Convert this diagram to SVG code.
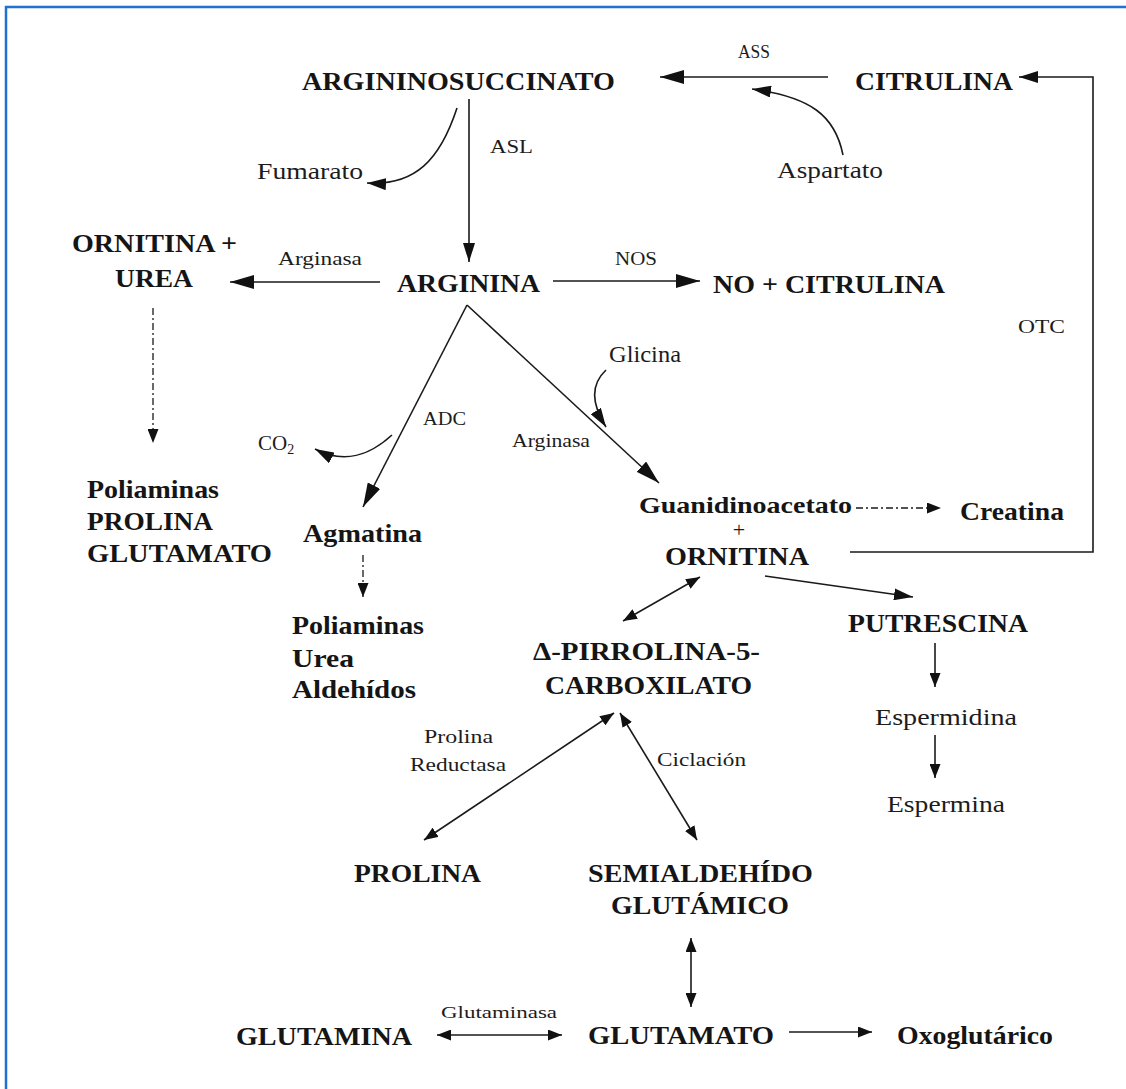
<svg xmlns="http://www.w3.org/2000/svg" width="1126" height="1089" viewBox="0 0 1126 1089">
  <defs>
    <style>
      text{font-family:"Liberation Serif","Times New Roman",serif}
      .b{font-weight:bold;fill:#151515}
      .r{font-weight:normal;fill:#1c1c1c}
      .L{font-size:26px}
      .M{font-size:24px}
      .S{font-size:19px}
      .ln{fill:none;stroke:#1a1a1a;stroke-width:1.6}
      .dl{fill:none;stroke:#1a1a1a;stroke-width:1.3;stroke-dasharray:7 3 2 3}
    </style>
    <marker id="ah" markerUnits="userSpaceOnUse" markerWidth="24" markerHeight="14" viewBox="0 0 24 14" refX="24" refY="7" orient="auto-start-reverse">
      <path d="M0,0 L24,7 L0,14 Z" fill="#111"/>
    </marker>
    <marker id="am" markerUnits="userSpaceOnUse" markerWidth="19" markerHeight="12" viewBox="0 0 19 12" refX="19" refY="6" orient="auto-start-reverse">
      <path d="M0,0 L19,6 L0,12 Z" fill="#111"/>
    </marker>
    <marker id="as" markerUnits="userSpaceOnUse" markerWidth="14" markerHeight="11" viewBox="0 0 14 11" refX="14" refY="5.5" orient="auto-start-reverse">
      <path d="M0,0 L14,5.5 L0,11 Z" fill="#111"/>
    </marker>
  </defs>

  <rect width="1126" height="1089" fill="#ffffff"/>
  <!-- frame: left and top edges -->
  <path d="M6,1089 V7 H1126" fill="none" stroke="#1f72cf" stroke-width="2.5"/>

  <g id="connectors">
    <!-- urea cycle -->
    <path class="ln" d="M828,77 H660" marker-end="url(#ah)"/>
    <path class="ln" d="M850,552 H1093 V77 H1019" marker-end="url(#am)"/>
    <path class="ln" d="M843,155 C835,115 810,97 752,89" marker-end="url(#am)"/>
    <path class="ln" d="M469,99 V262" marker-end="url(#am)"/>
    <path class="ln" d="M457,108 C440,160 415,186 367,183" marker-end="url(#am)"/>
    <path class="ln" d="M380,282 H230" marker-end="url(#ah)"/>
    <path class="ln" d="M553,281 H700" marker-end="url(#ah)"/>
    <!-- arginine branches -->
    <path class="dl" d="M153,308 V443" marker-end="url(#as)"/>
    <path class="ln" d="M467,305 L363,507" marker-end="url(#ah)"/>
    <path class="ln" d="M392,435 C370,455 345,465 315,449" marker-end="url(#am)"/>
    <path class="ln" d="M467,305 L659,483" marker-end="url(#ah)"/>
    <path class="ln" d="M606,370 C590,385 592,405 606,427" marker-end="url(#am)"/>
    <path class="dl" d="M363,555 V597" marker-end="url(#as)"/>
    <path class="dl" d="M856,508 H941" marker-end="url(#as)"/>
    <!-- ornithine branches -->
    <path class="ln" d="M700,577 L623,621" marker-start="url(#as)" marker-end="url(#as)"/>
    <path class="ln" d="M765,576 L913,597" marker-end="url(#am)"/>
    <path class="ln" d="M935,643 V687" marker-end="url(#as)"/>
    <path class="ln" d="M935,735 V778" marker-end="url(#as)"/>
    <!-- P5C / glutamate -->
    <path class="ln" d="M614,713 L424,840" marker-start="url(#as)" marker-end="url(#as)"/>
    <path class="ln" d="M620,713 L697,840" marker-start="url(#as)" marker-end="url(#as)"/>
    <path class="ln" d="M691,938 V1007" marker-start="url(#as)" marker-end="url(#as)"/>
    <path class="ln" d="M437,1035 H562" marker-start="url(#as)" marker-end="url(#as)"/>
    <path class="ln" d="M789,1032 H872" marker-end="url(#as)"/>
  </g>

  <g id="argininosuccinato"><text class="b L" x="302" y="90" textLength="313" lengthAdjust="spacingAndGlyphs">ARGININOSUCCINATO</text></g>
  <g id="citrulina"><text class="b L" x="855" y="90" textLength="158" lengthAdjust="spacingAndGlyphs">CITRULINA</text></g>
  <g id="lbl-ass"><text class="r S" x="738" y="58" textLength="32" lengthAdjust="spacingAndGlyphs">ASS</text></g>
  <g id="aspartato"><text class="r M" x="777" y="178" textLength="106" lengthAdjust="spacingAndGlyphs">Aspartato</text></g>
  <g id="lbl-asl"><text class="r S" x="490" y="153" textLength="43" lengthAdjust="spacingAndGlyphs">ASL</text></g>
  <g id="fumarato"><text class="r M" x="257" y="179" textLength="106" lengthAdjust="spacingAndGlyphs">Fumarato</text></g>

  <g id="ornitina-urea">
    <text class="b L" x="72" y="252" textLength="165" lengthAdjust="spacingAndGlyphs">ORNITINA +</text>
    <text class="b L" x="115" y="287" textLength="78" lengthAdjust="spacingAndGlyphs">UREA</text>
  </g>
  <g id="lbl-arginasa-1"><text class="r S" x="278" y="265" textLength="84" lengthAdjust="spacingAndGlyphs">Arginasa</text></g>
  <g id="arginina"><text class="b L" x="397" y="292" textLength="143" lengthAdjust="spacingAndGlyphs">ARGININA</text></g>
  <g id="lbl-nos"><text class="r S" x="615" y="265" textLength="42" lengthAdjust="spacingAndGlyphs">NOS</text></g>
  <g id="no-citrulina"><text class="b L" x="713" y="293" textLength="232" lengthAdjust="spacingAndGlyphs">NO + CITRULINA</text></g>
  <g id="lbl-otc"><text class="r S" x="1018" y="333" textLength="47" lengthAdjust="spacingAndGlyphs">OTC</text></g>

  <g id="glicina"><text class="r" font-size="23" x="609" y="362" textLength="72" lengthAdjust="spacingAndGlyphs">Glicina</text></g>
  <g id="lbl-adc"><text class="r S" x="423" y="425" textLength="43" lengthAdjust="spacingAndGlyphs">ADC</text></g>
  <g id="lbl-arginasa-2"><text class="r" font-size="18" x="512" y="447" textLength="78" lengthAdjust="spacingAndGlyphs">Arginasa</text></g>
  <g id="co2"><text class="r" font-size="21" x="258" y="450">CO<tspan font-size="14" dy="4">2</tspan></text></g>

  <g id="poliaminas-prolina-glutamato">
    <text class="b L" x="87" y="498" textLength="132" lengthAdjust="spacingAndGlyphs">Poliaminas</text>
    <text class="b L" x="87" y="530" textLength="126" lengthAdjust="spacingAndGlyphs">PROLINA</text>
    <text class="b L" x="87" y="562" textLength="185" lengthAdjust="spacingAndGlyphs">GLUTAMATO</text>
  </g>
  <g id="agmatina"><text class="b" font-size="25" x="303" y="542" textLength="119" lengthAdjust="spacingAndGlyphs">Agmatina</text></g>

  <g id="guanidinoacetato-ornitina">
    <text class="b M" x="639" y="513" textLength="213" lengthAdjust="spacingAndGlyphs">Guanidinoacetato</text>
    <text class="r" font-size="22" x="739" y="537" text-anchor="middle">+</text>
    <text class="b L" x="665" y="565" textLength="144" lengthAdjust="spacingAndGlyphs">ORNITINA</text>
  </g>
  <g id="creatina"><text class="b" font-size="25" x="960" y="520" textLength="104" lengthAdjust="spacingAndGlyphs">Creatina</text></g>

  <g id="poliaminas-urea-aldehidos">
    <text class="b L" x="292" y="634" textLength="132" lengthAdjust="spacingAndGlyphs">Poliaminas</text>
    <text class="b L" x="292" y="667" textLength="62" lengthAdjust="spacingAndGlyphs">Urea</text>
    <text class="b L" x="292" y="698" textLength="124" lengthAdjust="spacingAndGlyphs">Aldehídos</text>
  </g>
  <g id="pirrolina-carboxilato">
    <text class="b L" x="533" y="660" textLength="227" lengthAdjust="spacingAndGlyphs">Δ-PIRROLINA-5-</text>
    <text class="b L" x="545" y="694" textLength="207" lengthAdjust="spacingAndGlyphs">CARBOXILATO</text>
  </g>
  <g id="putrescina"><text class="b L" x="848" y="632" textLength="180" lengthAdjust="spacingAndGlyphs">PUTRESCINA</text></g>
  <g id="espermidina"><text class="r M" x="875" y="725" textLength="142" lengthAdjust="spacingAndGlyphs">Espermidina</text></g>
  <g id="espermina"><text class="r M" x="887" y="812" textLength="118" lengthAdjust="spacingAndGlyphs">Espermina</text></g>

  <g id="lbl-prolina-reductasa">
    <text class="r S" x="424" y="743" textLength="69" lengthAdjust="spacingAndGlyphs">Prolina</text>
    <text class="r S" x="410" y="771" textLength="96" lengthAdjust="spacingAndGlyphs">Reductasa</text>
  </g>
  <g id="lbl-ciclacion"><text class="r S" x="657" y="766" textLength="89" lengthAdjust="spacingAndGlyphs">Ciclación</text></g>

  <g id="prolina"><text class="b L" x="354" y="882" textLength="127" lengthAdjust="spacingAndGlyphs">PROLINA</text></g>
  <g id="semialdehido-glutamico">
    <text class="b L" x="588" y="882" textLength="225" lengthAdjust="spacingAndGlyphs">SEMIALDEHÍDO</text>
    <text class="b L" x="611" y="914" textLength="178" lengthAdjust="spacingAndGlyphs">GLUTÁMICO</text>
  </g>

  <g id="lbl-glutaminasa"><text class="r" font-size="17" x="441" y="1018" textLength="116" lengthAdjust="spacingAndGlyphs">Glutaminasa</text></g>
  <g id="glutamina"><text class="b L" x="236" y="1045" textLength="176" lengthAdjust="spacingAndGlyphs">GLUTAMINA</text></g>
  <g id="glutamato"><text class="b L" x="588" y="1044" textLength="186" lengthAdjust="spacingAndGlyphs">GLUTAMATO</text></g>
  <g id="oxoglutarico"><text class="b" font-size="25" x="897" y="1044" textLength="156" lengthAdjust="spacingAndGlyphs">Oxoglutárico</text></g>
</svg>
